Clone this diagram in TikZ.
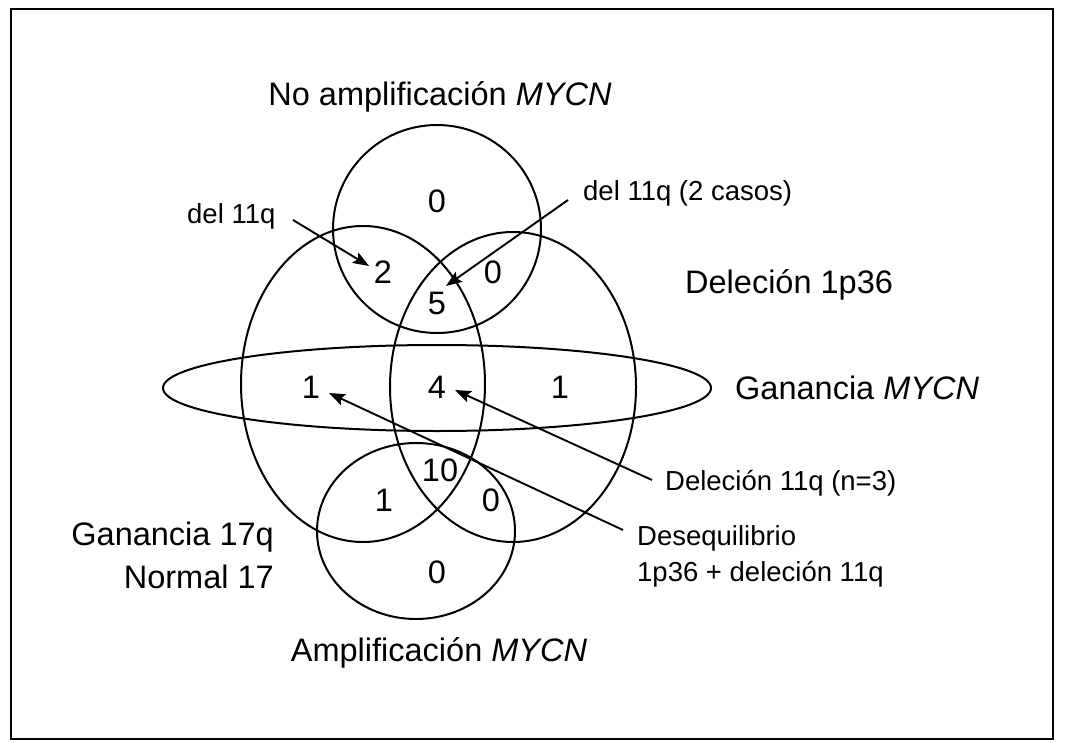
\documentclass[tikz,border=0pt]{standalone}
\usepackage{fontspec}
\setmainfont{Liberation Sans}
\usetikzlibrary{arrows.meta}
\begin{document}
\begin{tikzpicture}[x=1pt,y=-1pt,
  shp/.style={line width=2pt},
  big/.style={font=\fontsize{32.5}{38}\selectfont, inner sep=0pt},
  small/.style={font=\fontsize{27.5}{36}\selectfont, inner sep=0pt},
  num/.style={font=\fontsize{32.5}{38}\selectfont, inner sep=0pt},
  ptr/.style={line width=1.9pt, -{Stealth[length=16pt,width=12pt,inset=3pt]}}]
\useasboundingbox (0,0) rectangle (1065,749);
\draw[line width=1.6pt] (11,9) rectangle (1053,739);
% sets
\draw[shp] (437,229) ellipse (104 and 104);
\draw[shp] (363,384) ellipse (122 and 158);
\draw[shp] (513,387) ellipse (123 and 155);
\draw[shp] (437,388) ellipse (274 and 43);
\draw[shp] (416,531) ellipse (99 and 88);
% titles
\node[big] (tNo) at (440,97) {No amplificación \textit{MYCN}};
\node[big, anchor=west] (tDel) at (685,285) {Deleción 1p36};
\node[big, anchor=west] (tGan) at (735,388) {Ganancia \textit{MYCN}};
\node[big] (tAmp) at (439,653) {Amplificación \textit{MYCN}};
\node[big, anchor=east] (tG17) at (274,537) {Ganancia 17q};
\node[big, anchor=east] (tN17) at (274,577) {Normal 17};
% small labels
\node[small, anchor=west] (lA) at (187,216) {del 11q};
\node[small, anchor=west] (lB) at (583,193) {del 11q (2 casos)};
\node[small, anchor=west] (lC) at (665,483) {Deleción 11q (n=3)};
\node[small, anchor=west, align=left] (lD) at (637,556) {Desequilibrio\\1p36 + deleción 11q};
% numbers
\node[num] (n1) at (437,201) {0};
\node[num] (n2) at (383,272) {2};
\node[num] (n3) at (493,272) {0};
\node[num] (n4) at (437,303) {5};
\node[num] (n5) at (311,387) {1};
\node[num] (n6) at (437,387) {4};
\node[num] (n7) at (560,387) {1};
\node[num] (n8) at (440,470) {10};
\node[num] (n9) at (384,500) {1};
\node[num] (n10) at (491,500) {0};
\node[num] (n11) at (437,572) {0};
% connectors
\coordinate (sA) at (293,220);
\coordinate (eA) at (369,266);
\coordinate (sB) at (568,200);
\coordinate (eB) at (446,286);
\coordinate (sC) at (652,480);
\coordinate (eC) at (455,390);
\coordinate (sD) at (623,530);
\coordinate (eD) at (329,393);
\draw[ptr] (sA) -- (eA);
\draw[ptr] (sB) -- (eB);
\draw[ptr] (sC) -- (eC);
\draw[ptr] (sD) -- (eD);
\end{tikzpicture}
\end{document}
